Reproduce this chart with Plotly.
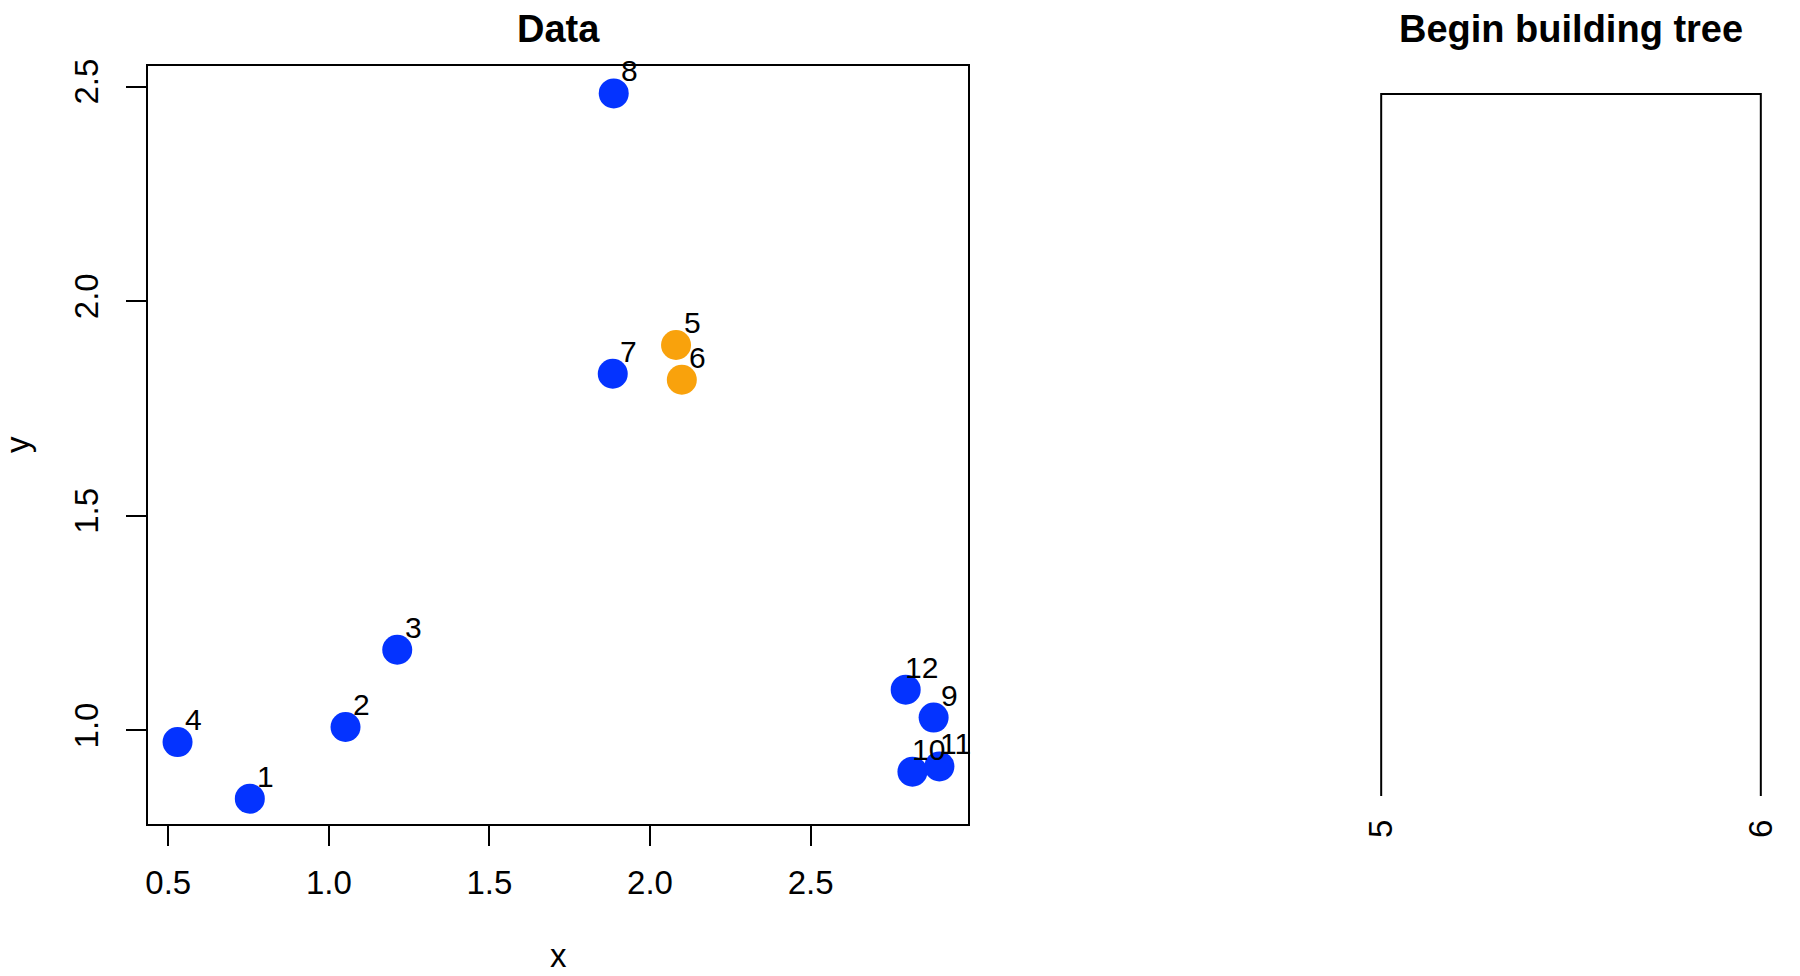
import math
import plotly.graph_objects as go

# points
point_ids = ["1", "2", "3", "4", "5", "6", "7", "8", "9", "10", "11", "12"]
x_vals = [0.754, 1.052, 1.213, 0.529, 2.081, 2.099, 1.884, 1.887, 2.883, 2.817, 2.901, 2.796]
y_vals = [0.841, 1.008, 1.188, 0.973, 1.898, 1.817, 1.831, 2.484, 1.030, 0.904, 0.916, 1.095]
merged = ["5", "6"]

x_ticks = [0.5, 1.0, 1.5, 2.0, 2.5]
y_ticks = [1.0, 1.5, 2.0, 2.5]

BLUE = "#0433FF"
ORANGE = "#F9A20C"
FONT = "Liberation Sans"

colors = [ORANGE if p in merged else BLUE for p in point_ids]

# first merge of the tree: the two orange points
i5, i6 = point_ids.index(merged[0]), point_ids.index(merged[1])
merge_height = math.hypot(x_vals[i5] - x_vals[i6], y_vals[i5] - y_vals[i6])
leaf_pos = [1, 2]

# page body has an 8px margin, so size the figure a bit smaller and shift
W, H = 1792, 968
PAD = 8


def px(v):
    return (v - PAD) / W


def py(v):
    return 1 - (v - PAD) / H


fig = go.Figure()

fig.add_trace(go.Scatter(
    x=x_vals, y=y_vals, mode="markers",
    marker=dict(color=colors, size=30, line=dict(width=0)),
    xaxis="x", yaxis="y", showlegend=False, hoverinfo="skip"))

fig.add_trace(go.Scatter(
    x=[leaf_pos[0], leaf_pos[0], leaf_pos[1], leaf_pos[1]],
    y=[0, merge_height, merge_height, 0],
    mode="lines", line=dict(color="black", width=2),
    xaxis="x2", yaxis="y2", showlegend=False, hoverinfo="skip"))

axis_font = dict(size=33, color="black", family=FONT)
title_font = dict(size=38, color="black", family=FONT)
left_dom = [px(148), px(968)]
right_dom = [px(1366), px(1776)]
ydom = [py(824), py(66)]

# point labels sit up and to the right of each point
annotations = []
for pid, xv, yv in zip(point_ids, x_vals, y_vals):
    annotations.append(dict(
        text=pid, x=xv, y=yv, xref="x", yref="y", showarrow=False,
        xanchor="center", yanchor="bottom", xshift=16, yshift=4,
        font=dict(size=30, color="black", family=FONT)))

annotations += [
    dict(text="<b>Data</b>", x=sum(left_dom) / 2, y=py(29),
         xref="paper", yref="paper", showarrow=False,
         xanchor="center", yanchor="middle", font=title_font),
    dict(text="<b>Begin building tree</b>", x=sum(right_dom) / 2, y=py(29),
         xref="paper", yref="paper", showarrow=False,
         xanchor="center", yanchor="middle", font=title_font),
    dict(text="x", x=sum(left_dom) / 2, y=0,
         xref="paper", yref="paper", showarrow=False,
         xanchor="center", yanchor="bottom", font=axis_font),
    dict(text="y", x=px(18), y=sum(ydom) / 2, textangle=-90,
         xref="paper", yref="paper", showarrow=False,
         xanchor="center", yanchor="middle", font=axis_font),
]

fig.update_layout(
    width=W, height=H,
    margin=dict(l=0, r=0, t=0, b=0),
    paper_bgcolor="white", plot_bgcolor="white",
    font=dict(family=FONT, color="black"),
    xaxis=dict(domain=left_dom, range=[0.437, 2.99], tickvals=x_ticks,
               ticktext=[f"{v:.1f}" for v in x_ticks],
               showline=True, mirror=True, linecolor="black", linewidth=2,
               ticks="outside", ticklen=20, tickwidth=2, tickcolor="black",
               ticklabelstandoff=8,
               tickfont=axis_font, showgrid=False, zeroline=False,
               automargin=False, anchor="y"),
    yaxis=dict(domain=ydom, range=[0.782, 2.548], tickvals=y_ticks,
               ticktext=[f"{v:.1f}" for v in y_ticks], tickangle=-90,
               showline=True, mirror=True, linecolor="black", linewidth=2,
               ticks="outside", ticklen=20, tickwidth=2, tickcolor="black",
               ticklabelstandoff=15,
               tickfont=axis_font, showgrid=False, zeroline=False,
               automargin=False, anchor="x"),
    xaxis2=dict(domain=right_dom, range=[0.96, 2.04], tickvals=leaf_pos,
                ticktext=merged, tickangle=-90, tickfont=axis_font,
                showline=False, ticks="", showgrid=False, zeroline=False,
                automargin=False, anchor="free", position=py(812)),
    yaxis2=dict(domain=ydom, range=[-0.04 * merge_height, 1.04 * merge_height],
                visible=False, anchor="x2"),
    annotations=annotations,
)

fig.write_html("out.html")
